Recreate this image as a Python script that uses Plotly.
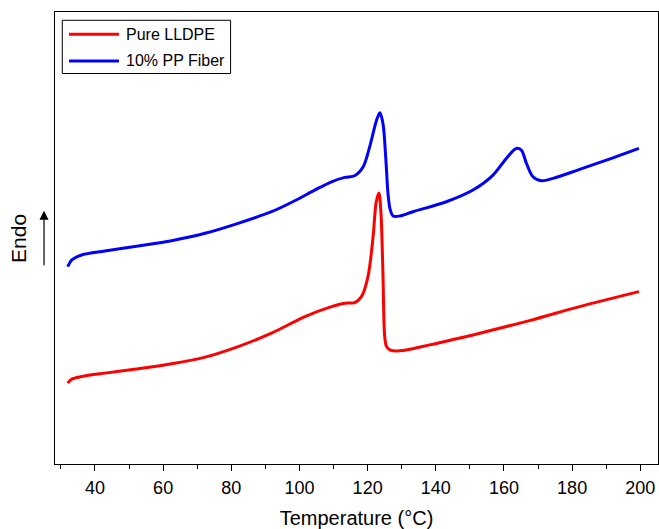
import plotly.graph_objects as go

# Temperature (°C) and heat-flow (arbitrary units, endo up)
t_lldpe = [32.0, 33.2, 36.1, 42.9, 52.7, 62.5, 72.3, 82.0, 91.8, 101.6, 109.4,
           113.3, 116.2, 118.2, 120.1, 121.6, 122.5, 123.3, 123.9,
           124.5, 125.0, 125.5, 126.5, 129.4, 138.2, 152.9, 167.5, 182.2, 199.6]
v_lldpe = [81, 85, 87.6, 91, 95.3, 100.3, 107, 117.6, 131, 147.6, 157.6,
           161, 161.6, 167.6, 187.6, 227.6, 262, 271.3, 252,
           190, 128, 118, 114.3, 113.3, 119.3, 131, 143.6, 157.6, 172.6]

t_pp = [32.0, 33.2, 36.1, 42.9, 52.7, 62.5, 72.3, 82.0, 91.8, 98.6, 104.5, 109.4,
        113.3, 116.2, 118.7, 120.6, 122.6, 123.6, 124.5, 125.3, 126.0, 126.6, 127.5,
        129.4, 133.3, 143.1, 150.9, 156.8, 160.7, 163.6, 165.1, 166.6, 168.5, 171.0,
        174.4, 182.2, 192.0, 199.6]
v_pp = [197.6, 204.3, 209.3, 213.3, 218.3, 223.6, 231, 241, 252.6, 263.6, 274.3, 282.6,
        287, 288.6, 297.6, 317.6, 344, 351.6, 341, 307.6, 270, 255, 248.3,
        248.3, 252.6, 262.6, 274.3, 289.3, 306, 316, 314.3, 301, 287.6, 283.6,
        286, 295, 306.6, 316]

series_names = ["Pure LLDPE", "10% PP Fiber"]
series_colors = ["#FF0000", "#0000FF"]

x_ticks = [40, 60, 80, 100, 120, 140, 160, 180, 200]

FONT = "Liberation Sans, Arial, sans-serif"

fig = go.Figure()
for name, tx, vy, col in zip(series_names, [t_lldpe, t_pp], [v_lldpe, v_pp], series_colors):
    fig.add_trace(go.Scatter(
        x=tx, y=vy, mode="lines", name=name, showlegend=False,
        line=dict(color=col, width=3, shape="spline", smoothing=0.9),
    ))

# hand-drawn legend box (matches the reference's long line samples)
shapes = [dict(type="rect", xref="paper", yref="paper", x0=0.0121, x1=0.2912,
               y0=0.8639, y1=0.9817, line=dict(color="black", width=1),
               fillcolor="white", layer="above")]
annotations = []
for i, (name, col) in enumerate(zip(series_names, series_colors)):
    yy = 0.9507 - i * 0.059
    shapes.append(dict(type="line", xref="paper", yref="paper", x0=0.0232, x1=0.1061,
                       y0=yy, y1=yy, line=dict(color=col, width=3), layer="above"))
    annotations.append(dict(text=name, xref="paper", yref="paper", x=0.1144, y=yy,
                            xanchor="left", yanchor="middle", showarrow=False,
                            font=dict(size=16, family=FONT)))

annotations += [
    dict(text="Endo", xref="paper", yref="paper", x=-0.0614, y=0.5,
         xanchor="center", yanchor="middle", textangle=-90, showarrow=False,
         font=dict(size=21, family=FONT)),
    dict(text="", xref="paper", yref="paper", x=-0.0182, y=0.5603,
         ax=0, ay=56, showarrow=True, arrowhead=2, arrowsize=1.5,
         arrowwidth=1.2, arrowcolor="black", standoff=0, startstandoff=0),
]

fig.update_layout(
    width=659, height=529,
    margin=dict(l=55, r=1, t=12, b=65, autoexpand=False),
    paper_bgcolor="white", plot_bgcolor="white",
    font=dict(family=FONT, color="black"),
    showlegend=False,
    xaxis=dict(
        range=[28.27, 205.2], tickvals=x_ticks, ticktext=[str(v) for v in x_ticks],
        ticks="outside", ticklen=6, tickwidth=1.2, tickcolor="black",
        minor=dict(dtick=10, tick0=0, ticks="outside", ticklen=3.5, tickwidth=1.2, tickcolor="black"),
        showline=True, linecolor="black", linewidth=1.3, mirror=True,
        showgrid=False, zeroline=False,
        tickfont=dict(size=18, family=FONT),
        ticklabelstandoff=1,
        title=dict(text="Temperature (°C)", font=dict(size=20, family=FONT), standoff=14),
        automargin=False,
    ),
    yaxis=dict(
        range=[0, 452.6], showticklabels=False, ticks="",
        showline=True, linecolor="black", linewidth=1.3, mirror=True,
        showgrid=False, zeroline=False, automargin=False,
    ),
    shapes=shapes,
    annotations=annotations,
)

fig.write_html("out.html", config={"displayModeBar": False},
               post_script="document.body.style.margin='0px';")
